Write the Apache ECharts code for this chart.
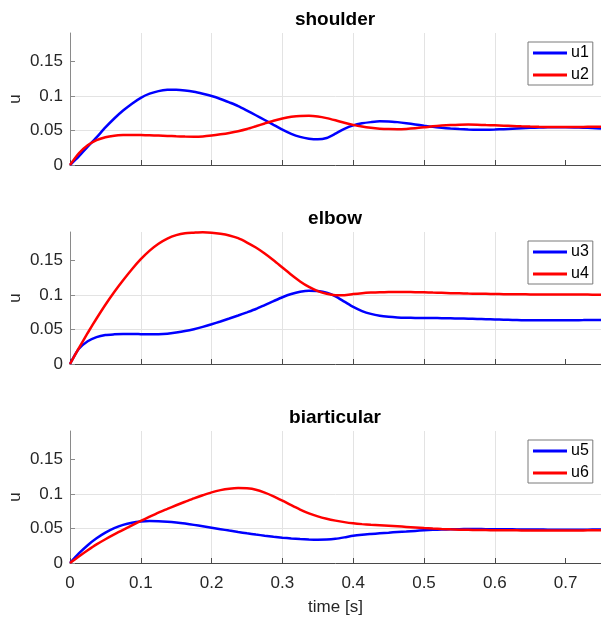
<!DOCTYPE html>
<html>
<head>
<meta charset="utf-8">
<script src="https://cdn.jsdelivr.net/npm/echarts@6/dist/echarts.min.js"></script>
<style>
html,body{margin:0;padding:0;background:#fff;}
#chart{width:601px;height:626px;}
</style>
</head>
<body>
<div id="chart"></div>
<script>
// time samples [s]
const t = [0,0.0125,0.025,0.0375,0.05,0.0625,0.075,0.0875,0.1,0.1125,0.125,0.1375,0.15,0.1625,0.175,0.1875,0.2,0.2125,0.225,0.2375,0.25,0.2625,0.275,0.2875,0.3,0.3125,0.325,0.3375,0.35,0.3625,0.375,0.3875,0.4,0.4125,0.425,0.4375,0.45,0.4625,0.475,0.4875,0.5,0.5125,0.525,0.5375,0.55,0.5625,0.575,0.5875,0.6,0.6125,0.625,0.6375,0.65,0.6625,0.675,0.6875,0.7,0.7125,0.725,0.7375,0.75];
// shoulder
const u1 = [0,.0125,.0265,.040,.0545,.0675,.079,.089,.0975,.1035,.1072,.109,.1092,.1082,.1062,.1033,.100,.0958,.0908,.0855,.079,.0722,.0653,.0583,.0513,.0452,.0408,.0382,.0372,.0392,.0455,.0525,.0575,.0605,.0622,.0633,.0632,.0622,.0607,.0589,.057,.0553,.054,.0529,.0521,.0515,.0512,.0512,.0515,.052,.0527,.0533,.0539,.0543,.0546,.0547,.0547,.0545,.0541,.0536,.053];
const u2 = [0,.017,.0285,.036,.0402,.0424,.0434,.0437,.0435,.0431,.0427,.0422,.0417,.0413,.0411,.0415,.0428,.0445,.0465,.049,.0522,.0562,.0603,.0642,.0675,.0699,.0712,.0713,.0703,.068,.0648,.0613,.0582,.0557,.0539,.0527,.0521,.052,.0524,.0533,.0546,.0561,.0572,.058,.0585,.0586,.0584,.058,.0576,.0571,.0566,.0561,.0557,.0554,.0552,.0551,.0551,.0552,.0553,.0555,.0556];
// elbow
const u3 = [0,.022,.033,.039,.042,.043,.0435,.0435,.0433,.0431,.0432,.044,.0457,.0478,.0505,.0538,.0576,.0617,.066,.0704,.075,.0798,.0855,.0912,.0968,.1015,.1048,.1064,.106,.1035,.0982,.0905,.0828,.0768,.0727,.07,.0685,.0676,.0671,.0668,.0667,.0666,.0665,.0663,.066,.0657,.0653,.065,.0647,.0643,.0639,.0636,.0634,.0633,.0633,.0634,.0635,.0636,.0637,.0639,.064];
const u4 = [0,.023,.045,.066,.086,.1045,.1215,.1375,.152,.1645,.1745,.182,.187,.1898,.1905,.191,.1905,.189,.1865,.1825,.1762,.169,.1603,.1505,.14,.1295,.1198,.1118,.1058,.1018,.0998,.0997,.1015,.1028,.1036,.1041,.1044,.1045,.1044,.1042,.104,.1036,.1032,.1028,.1025,.1022,.102,.1018,.1015,.1013,.1012,.1011,.101,.101,.101,.101,.101,.1008,.1007,.1006,.1005];
// biarticular
const u5 = [0,.0138,.0258,.0358,.044,.0505,.0553,.0584,.0601,.0608,.0607,.06,.0588,.0572,.0553,.0533,.0512,.0491,.047,.045,.0431,.0413,.0396,.0381,.0368,.0357,.0348,.0342,.0339,.0341,.0352,.0372,.0395,.041,.0421,.0431,.044,.0449,.0457,.0466,.0474,.0481,.0486,.0489,.0491,.0492,.0492,.0491,.049,.0489,.0488,.0487,.0486,.0485,.0484,.0483,.0482,.0482,.0483,.0485,.0486];
const u6 = [0,.0095,.0185,.027,.0345,.0415,.048,.0545,.061,.0672,.0732,.0785,.0838,.0888,.0938,.0983,.1025,.1057,.1078,.1087,.1083,.1064,.1022,.0968,.0905,.0838,.0775,.072,.0676,.0642,.0615,.0593,.0576,.0564,.0555,.0548,.0541,.0533,.0524,.0515,.0506,.0499,.0493,.0488,.0484,.0481,.0478,.0477,.0476,.0475,.0474,.0473,.0472,.0471,.047,.047,.047,.0471,.0473,.0475,.0476];

const titles = ['shoulder','elbow','biarticular'];
const seriesNames = [['u1','u2'],['u3','u4'],['u5','u6']];
const seriesData = [[u1,u2],[u3,u4],[u5,u6]];
const yTicks = [0,0.05,0.1,0.15];
const xTicks = [0,0.1,0.2,0.3,0.4,0.5,0.6,0.7];

const FONT = '"Liberation Sans", Arial, Helvetica, sans-serif';
const tops = [33,232,431];
const H = 132;
const colors = ['#0000ff','#ff0000'];

function pairs(y){ return t.map((x,i)=>[x,y[i]]); }

const option = {
  animation:false,
  backgroundColor:'#ffffff',
  title: titles.map((s,i)=>({
    text:s, left:335, top:tops[i]-23, textAlign:'center', padding:0,
    textStyle:{fontFamily:FONT,fontSize:19,fontWeight:'bold',color:'#000'}
  })),
  grid: tops.map(tp=>({left:70,top:tp,width:531,height:H,containLabel:false,outerBoundsMode:'none'})),
  legend: seriesNames.map((names,i)=>({
    data:names, orient:'vertical', left:528, top:tops[i]+9,
    icon:'rect', itemWidth:34, itemHeight:3, itemGap:6,
    padding:[3,4,2,5], borderColor:'#7a7a7a', borderWidth:1, backgroundColor:'#fff',
    textStyle:{fontFamily:FONT,fontSize:16,color:'#000',padding:[0,0,0,-1]}
  })),
  xAxis: tops.map((tp,i)=>({
    type:'value', gridIndex:i, min:0, max:0.75, interval:0.1,
    name: i===2 ? 'time [s]' : '', nameLocation:'middle', nameGap:36, nameMoveOverlap:false,
    nameTextStyle:{fontFamily:FONT,fontSize:17,color:'#262626'},
    axisLine:{show:true,onZero:false,lineStyle:{color:'#4a4a4a',width:1}},
    axisTick:{show:true,inside:true,length:5,customValues:xTicks,lineStyle:{color:'#4a4a4a'}},
    axisLabel:{show:i===2,customValues:xTicks,margin:12,fontFamily:FONT,fontSize:17,color:'#262626',
      formatter:v=>String(+v.toFixed(2))},
    splitLine:{show:true,showMaxLine:false,showMinLine:false,lineStyle:{color:'#e3e3e3',width:1}}
  })),
  yAxis: tops.map((tp,i)=>({
    type:'value', gridIndex:i, min:0, max:0.1915, interval:0.05,
    name:'u', nameLocation:'middle', nameGap:46, nameRotate:90, nameMoveOverlap:false,
    nameTextStyle:{fontFamily:FONT,fontSize:17,color:'#262626'},
    axisLine:{show:true,lineStyle:{color:'#8a8a8a',width:1}},
    axisTick:{show:true,inside:true,length:5,customValues:yTicks,lineStyle:{color:'#8a8a8a'}},
    axisLabel:{customValues:yTicks,margin:7,fontFamily:FONT,fontSize:17,color:'#262626',
      formatter:v=>String(+v.toFixed(3))},
    splitLine:{show:true,showMaxLine:false,showMinLine:false,lineStyle:{color:'#e3e3e3',width:1}}
  })),
  series: []
};

seriesNames.forEach((names,i)=>{
  names.forEach((n,j)=>{
    option.series.push({
      name:n, type:'line', xAxisIndex:i, yAxisIndex:i,
      data:pairs(seriesData[i][j]), showSymbol:false, symbol:'none',
      smooth:0.25,
      lineStyle:{color:colors[j],width:2.5}, itemStyle:{color:colors[j]},
      z: 2+j
    });
  });
});

const chart = echarts.init(document.getElementById('chart'),null,{renderer:'canvas'});
chart.setOption(option);
</script>
</body>
</html>
